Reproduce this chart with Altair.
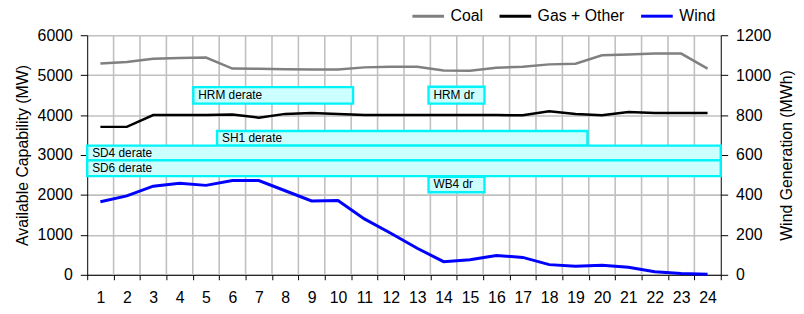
import altair as alt
import pandas as pd

hours = list(range(1, 25))
coal = [5290, 5330, 5410, 5430, 5440, 5165, 5160, 5150, 5140, 5140, 5195, 5210,
        5210, 5115, 5110, 5185, 5210, 5270, 5285, 5500, 5520, 5540, 5540, 5165]
gas = [3705, 3705, 4000, 4000, 4000, 4015, 3935, 4030, 4055, 4030, 4000, 4000,
       4000, 4000, 4000, 4000, 3995, 4095, 4030, 3995, 4075, 4050, 4050, 4055]
wind = [366, 395, 444, 459, 448, 472, 472, 421, 370, 372, 280, 208,
        133, 66, 75, 97, 87, 51, 43, 48, 38, 15, 6, 3]

series_names = ["Coal", "Gas + Other", "Wind"]
series_colors = ["#808080", "#000000", "#0000ff"]

box_labels = ["HRM derate", "HRM dr", "SH1 derate", "SD4 derate", "SD6 derate", "WB4 dr"]
box_start = [4.52, 13.43, 5.42, 0.5, 0.5, 13.43]
box_end = [10.57, 15.55, 19.45, 24.5, 24.5, 15.55]
box_top = [4700, 4710, 3603, 3234, 2865, 2453]
box_bottom = [4286, 4286, 3234, 2865, 2470, 2069]

# interior hour boundaries (vertical grid lines)
hour_edges = [h + 0.5 for h in range(1, 24)]

FONT = "Liberation Sans"
GRID = "#c0c0c0"

cg_df = pd.DataFrame({
    "hour": hours * 2,
    "series": ["Coal"] * 24 + ["Gas + Other"] * 24,
    "value": coal + gas,
})
wind_df = pd.DataFrame({"hour": hours, "series": ["Wind"] * 24, "wind": wind})
box_df = pd.DataFrame({
    "label": box_labels, "x0": box_start, "x1": box_end,
    "y0": box_bottom, "y1": box_top,
})
box_df["ymid"] = (box_df["y0"] + box_df["y1"]) / 2
edge_df = pd.DataFrame({"edge": hour_edges})

color = alt.Color(
    "series:N",
    scale=alt.Scale(domain=series_names, range=series_colors),
    legend=alt.Legend(
        orient="none", legendX=327, legendY=-37, direction="horizontal",
        title=None, symbolType="stroke", symbolSize=1024, symbolStrokeWidth=3,
        labelFontSize=16, labelFont=FONT, labelColor="black", labelOffset=5,
        columnPadding=10, padding=0,
    ),
)

xband = alt.Scale(type="band", paddingInner=0, paddingOuter=0)
xq = alt.Scale(domain=[0.5, 24.5], nice=False, zero=False)
yleft = alt.Scale(domain=[0, 6000], nice=False)

vgrid = alt.Chart(edge_df).mark_rule(color=GRID, strokeWidth=1.6).encode(
    x=alt.X("edge:Q", scale=xq, axis=None),
    y=alt.datum(0, scale=yleft, axis=None),
    y2=alt.datum(6000),
)
rects = alt.Chart(box_df).mark_rect(
    fill="#ccffff", stroke="#00f4f8", strokeWidth=2.4
).encode(
    x=alt.X("x0:Q", scale=xq, axis=None),
    x2="x1:Q",
    y=alt.Y("y0:Q", scale=yleft, axis=None),
    y2="y1:Q",
)
texts = alt.Chart(box_df).mark_text(
    align="left", baseline="middle", dx=5, fontSize=12, font=FONT, color="black"
).encode(
    x=alt.X("x0:Q", scale=xq, axis=None),
    y=alt.Y("ymid:Q", scale=yleft, axis=None),
    text="label:N",
)
boxes = alt.layer(vgrid, rects, texts)

cg = alt.Chart(cg_df).mark_line(strokeWidth=2.5).encode(
    x=alt.X("hour:O", scale=xband, axis=alt.Axis(
        orient="bottom", title=None, labelAngle=0, tickBand="extent", grid=False,
        domainColor="black", tickColor="black", tickSize=5, labelPadding=10,
        labelFontSize=16, labelFont=FONT, labelColor="black",
    )),
    y=alt.Y("value:Q", scale=yleft, axis=alt.Axis(
        orient="left", values=list(range(0, 6001, 1000)), format="d", grid=True,
        gridColor=GRID, gridWidth=1.6, domainColor="black",
        tickColor="black", tickSize=7, labelPadding=8,
        labelFontSize=16, labelFont=FONT, labelColor="black",
        title="Available Capability (MW)", titleFontSize=16, titleFont=FONT,
        titleFontWeight="normal", titleColor="black", titleAngle=270,
        titleX=-65, titleY=121, titleAlign="center", titleBaseline="middle",
    )),
    color=color,
)

wl = alt.Chart(wind_df).mark_line(strokeWidth=3).encode(
    x=alt.X("hour:O", scale=xband, axis=None),
    y=alt.Y("wind:Q", scale=alt.Scale(domain=[0, 1200], nice=False), axis=alt.Axis(
        orient="right", values=list(range(0, 1201, 200)), format="d", grid=False,
        domainColor="black", tickColor="black", tickSize=7, labelPadding=8,
        labelFontSize=16, labelFont=FONT, labelColor="black",
        title="Wind Generation (MWh)", titleFontSize=16, titleFont=FONT,
        titleFontWeight="normal", titleColor="black", titleAngle=270,
        titleX=66, titleY=121, titleAlign="center", titleBaseline="middle",
    )),
    color=color,
)

chart = alt.layer(boxes, cg, wl).resolve_scale(
    x="independent", y="independent"
).properties(
    width=640, height=242,
    autosize=alt.AutoSizeParams(type="none"),
    padding={"left": 80, "top": 26, "right": 76, "bottom": 30},
).configure_view(stroke=None)

chart.save("out.html", embed_options={"renderer": "svg", "actions": False})
